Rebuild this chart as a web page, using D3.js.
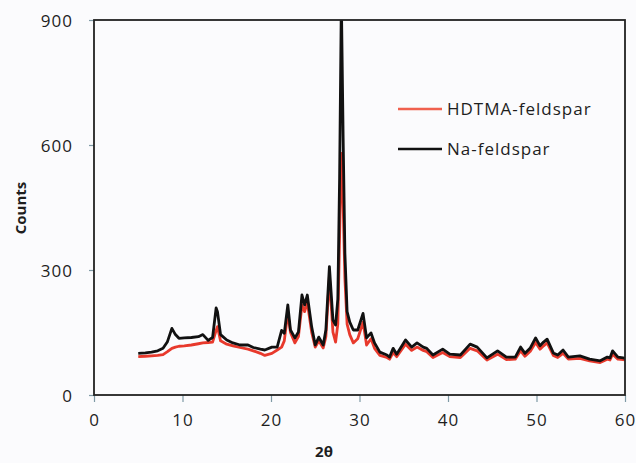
<!DOCTYPE html>
<html>
<head>
<meta charset="utf-8">
<script src="https://cdn.jsdelivr.net/npm/d3@7"></script>
<style>
  html, body { margin: 0; padding: 0; background: #fbfbfd; }
  svg { display: block; }
  text { font-family: "Open Sans", sans-serif; fill: #1e1e1e; }
</style>
</head>
<body>
<svg id="chart" width="636" height="463"></svg>
<script>
// ---- data ----
const twoTheta = [5.0,5.8,6.5,7.2,7.8,8.3,8.8,9.2,9.6,10.2,11.0,11.8,12.3,12.9,13.4,13.8,13.95,14.3,15.0,15.7,16.5,17.4,18.0,18.8,19.3,20.1,20.7,21.2,21.5,21.9,22.2,22.7,23.1,23.5,23.8,24.1,24.6,25.0,25.4,25.9,26.2,26.6,27.0,27.3,27.55,27.75,27.95,28.15,28.35,28.6,28.9,29.3,29.8,30.4,30.8,31.3,31.7,32.3,33.1,33.4,33.8,34.2,35.2,35.9,36.5,37.2,37.6,38.3,39.4,40.2,41.4,42.5,43.3,44.4,45.6,46.6,47.6,48.2,48.7,49.3,49.9,50.4,50.8,51.2,51.9,52.4,53.0,53.6,54.9,56.0,57.2,58.0,58.3,58.6,59.2,59.8,60.0];
const naFeldspar = [100,101,103,106,112,128,160,145,136,137,138,140,145,131,138,209,200,145,132,125,120,120,114,110,108,115,115,155,148,216,156,137,151,240,216,240,163,120,139,120,156,308,180,168,230,520,950,620,340,200,175,156,156,196,137,149,125,103,96,91,112,98,132,115,125,115,112,96,110,98,96,122,115,89,106,91,91,115,100,113,137,118,127,134,101,96,108,91,94,86,82,91,89,106,91,89,88];
const hdtmaFeldspar = [92,93,94,95,97,104,112,115,117,118,120,123,125,126,127,155,164,130,122,118,114,110,106,100,95,100,108,115,130,197,150,125,140,216,200,223,150,115,130,113,140,284,151,127,170,380,580,460,280,170,145,125,135,175,120,135,112,95,90,86,102,92,122,107,115,107,104,90,102,92,90,112,106,84,98,85,86,106,93,105,126,110,118,125,95,90,100,86,88,82,78,86,84,98,86,85,84];
const xTicks = [0,10,20,30,40,50,60];
const yTicks = [0,300,600,900];
const seriesNames = ["HDTMA-feldspar","Na-feldspar"];
const seriesColors = ["#e8392c","#111111"];

// ---- layout ----
const svg = d3.select("#chart");
const L = 94, R = 625, T = 20, B = 395;
const x = d3.scaleLinear().domain([0,60]).range([L,R]);
const y = d3.scaleLinear().domain([0,900]).range([B,T]);

svg.append("defs").append("clipPath").attr("id","plotClip")
  .append("rect").attr("x",L).attr("y",T).attr("width",R-L).attr("height",B-T);

// axes
const xAxis = d3.axisBottom(x).tickValues(xTicks).tickSize(7).tickPadding(24).tickFormat(d3.format("d"));
const yAxis = d3.axisLeft(y).tickValues(yTicks).tickSize(5).tickPadding(16).tickFormat(d3.format("d"));

const gx = svg.append("g").attr("transform",`translate(0,${B})`).call(xAxis);
const gy = svg.append("g").attr("transform",`translate(${L},0)`).call(yAxis);
[gx,gy].forEach(g=>{
  g.select(".domain").remove();
  g.selectAll(".tick line").attr("stroke","#7f9aa6").attr("stroke-width",1.2);
  g.selectAll(".tick text").attr("font-size",17).attr("letter-spacing","1px")
    .attr("fill","#1e1e1e").style("font-family","'Open Sans', sans-serif");
});
gx.selectAll(".tick text").attr("dy","0");
gy.selectAll(".tick text").attr("dy","0.36em");

// series
const lineGen = vals => d3.line()
  .x((d,i)=>x(twoTheta[i]))
  .y(d=>y(d))(vals);

const plot = svg.append("g").attr("clip-path","url(#plotClip)");
plot.append("path").attr("d",lineGen(hdtmaFeldspar))
  .attr("fill","none").attr("stroke",seriesColors[0]).attr("stroke-width",2.8).attr("stroke-linejoin","round");
plot.append("path").attr("d",lineGen(naFeldspar))
  .attr("fill","none").attr("stroke",seriesColors[1]).attr("stroke-width",2.8).attr("stroke-linejoin","round");

// frame
svg.append("rect").attr("x",L).attr("y",T).attr("width",R-L).attr("height",B-T)
  .attr("fill","none").attr("stroke","#222").attr("stroke-width",1.8);

// legend
const legendY = [109,149];
seriesNames.forEach((name,i)=>{
  svg.append("line").attr("x1",398).attr("x2",442).attr("y1",legendY[i]).attr("y2",legendY[i])
    .attr("stroke", i===0 ? "#f0604e" : "#111").attr("stroke-width",2.6);
  svg.append("text").attr("x",447).attr("y",legendY[i]).attr("dy","0.35em")
    .attr("font-size",17).attr("letter-spacing","1px").text(name);
});

// axis titles
svg.append("text").attr("transform","translate(26,208) rotate(-90)")
  .attr("text-anchor","middle").attr("font-size",15).attr("font-weight","bold").text("Counts");
svg.append("text").attr("x",324).attr("y",457).attr("text-anchor","middle")
  .attr("font-size",15).attr("font-weight","bold").text("2θ");
</script>
</body>
</html>
